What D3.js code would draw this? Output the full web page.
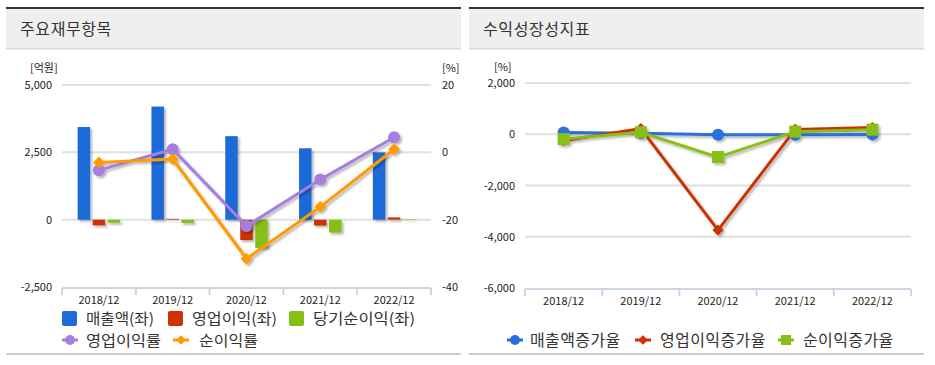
<!DOCTYPE html>
<html><head><meta charset="utf-8">
<script src="https://cdn.jsdelivr.net/npm/d3@7"></script>
<style>
html,body{margin:0;padding:0;background:#fff;}
svg{display:block;font-family:"Noto Sans CJK KR","Noto Sans",sans-serif;}
</style></head>
<body><svg id="c" width="935" height="365"></svg>
<script>
// ---------- data ----------
const categories = ["2018/12","2019/12","2020/12","2021/12","2022/12"];
// left chart (억원)
const sales = [3440, 4200, 3100, 2650, 2500];
const opIncome = [-210, 30, -760, -220, 85];
const netIncome = [-115, -120, -1050, -480, 20];
// left chart (%)
const opMargin = [-5.3, 0.9, -21.9, -8.1, 4.5];
const netMargin = [-3.0, -2.0, -31.6, -16.2, 0.9];
const leftTicks = [-2500, 0, 2500, 5000];
const rightTicks = [-40, -20, 0, 20];
// right chart (%)
const salesGrowth = [70, 40, -20, -15, -5];
const opGrowth = [-250, 220, -3740, 190, 260];
const netGrowth = [-190, 80, -890, 100, 180];
const growthTicks = [-6000, -4000, -2000, 0, 2000];

const leftTitle = "주요재무항목", rightTitle = "수익성장성지표";
const barNames = ["매출액(좌)", "영업이익(좌)", "당기순이익(좌)"];
const lineNames = ["영업이익률", "순이익률"];
const growthNames = ["매출액증가율", "영업이익증가율", "순이익증가율"];

// ---------- styles ----------
const C = {blue:"#1f6bd8", red:"#cc3300", green:"#88bf12", purple:"#a67edf", orange:"#ff9a00"};
const fmt = d3.formatLocale({decimal:".",thousands:",",grouping:[3],currency:["",""],minus:"-"}).format(",");
const svg = d3.select("#c");
const defs = svg.append("defs");
const f = defs.append("filter").attr("id","sh").attr("x","-20%").attr("y","-20%").attr("width","160%").attr("height","160%");
f.append("feDropShadow").attr("dx",2).attr("dy",2).attr("stdDeviation",1).attr("flood-color","#000").attr("flood-opacity",0.28);

function panel(x0, x1, title){
  svg.append("rect").attr("x",x0).attr("y",7).attr("width",x1-x0).attr("height",2).attr("fill","#333");
  svg.append("rect").attr("x",x0).attr("y",9).attr("width",x1-x0).attr("height",40).attr("fill","#efefef");
  svg.append("rect").attr("x",x0).attr("y",48).attr("width",x1-x0).attr("height",1.5).attr("fill","#d9d9d9");
  svg.append("rect").attr("x",x0).attr("y",353).attr("width",x1-x0).attr("height",2).attr("fill","#cccccc");
  svg.append("text").attr("x",x0+14).attr("y",35).attr("font-size",16).attr("letter-spacing",0.6).attr("fill","#333").text(title);
}
panel(6, 461, leftTitle);
panel(469, 924, rightTitle);

function grid(g, y, ticks, x0, x1){
  g.selectAll(null).data(ticks).join("line")
    .attr("x1",x0).attr("x2",x1).attr("y1",d=>y(d)).attr("y2",d=>y(d))
    .attr("stroke","#e0e0e0").attr("stroke-width",2);
}
function xAxis(g, x, y0){
  const r = x.range();
  g.append("line").attr("x1",r[0]).attr("x2",r[1]).attr("y1",y0).attr("y2",y0).attr("stroke","#ccd6e3").attr("stroke-width",2);
  const bounds = categories.map(c=>x(c)).concat([r[1]]);
  g.selectAll(null).data(bounds).join("line")
    .attr("x1",d=>d).attr("x2",d=>d).attr("y1",y0).attr("y2",y0+7).attr("stroke","#ccd6e3").attr("stroke-width",2);
  g.selectAll(null).data(categories).join("text")
    .attr("x",d=>x(d)+x.bandwidth()/2).attr("y",y0+16).attr("text-anchor","middle")
    .attr("font-size",11).attr("fill","#222").text(d=>d);
}
function diamond(s){ return d3.symbol(d3.symbolDiamond2 || d3.symbolDiamond, s)(); }

// ---------- left chart ----------
{
  const g = svg.append("g");
  const x = d3.scaleBand().domain(categories).range([62,431]);
  const y = d3.scaleLinear().domain([-2500,5000]).range([287,85]);
  const y2 = d3.scaleLinear().domain([-40,20]).range([287,85]);
  grid(g, y, leftTicks.filter(d=>d!==-2500), 62, 431);
  g.selectAll(null).data(leftTicks).join("text")
    .attr("x",52).attr("y",d=>y(d)+4).attr("text-anchor","end").attr("font-size",11).attr("fill","#222").text(d=>fmt(d));
  g.selectAll(null).data(rightTicks).join("text")
    .attr("x",442).attr("y",d=>y2(d)+4).attr("text-anchor","start").attr("font-size",11).attr("fill","#222").text(d=>d);
  g.append("text").attr("x",30).attr("y",72).attr("font-size",11).attr("fill","#222").text("[억원]");
  g.append("text").attr("x",442).attr("y",72).attr("font-size",11).attr("fill","#222").text("[%]");
  xAxis(g, x, 288);

  const series = [sales, opIncome, netIncome];
  const cols = [C.blue, C.red, C.green];
  const offs = [-15, 0, 15];
  const bw = 12.5;
  series.forEach((s,i)=>{
    g.append("g").attr("filter","url(#sh)").selectAll(null).data(s).join("rect")
      .attr("x",(d,j)=>x(categories[j])+x.bandwidth()/2+offs[i]-bw/2)
      .attr("width",bw)
      .attr("y",d=>Math.min(y(d),y(0)))
      .attr("height",d=>Math.abs(y(d)-y(0)))
      .attr("fill",cols[i]);
  });
  const cx = j=>x(categories[j])+x.bandwidth()/2;
  const line = d3.line().x((d,j)=>cx(j)).y(d=>y2(d));
  const lg = g.append("g").attr("filter","url(#sh)");
  lg.append("path").attr("d",line(opMargin)).attr("fill","none").attr("stroke",C.purple).attr("stroke-width",3);
  lg.selectAll(null).data(opMargin).join("circle").attr("cx",(d,j)=>cx(j)).attr("cy",d=>y2(d)).attr("r",6).attr("fill",C.purple);
  lg.append("path").attr("d",line(netMargin)).attr("fill","none").attr("stroke",C.orange).attr("stroke-width",3);
  lg.selectAll(null).data(netMargin).join("path").attr("d",diamond(90))
    .attr("transform",(d,j)=>`translate(${cx(j)},${y2(d)})`).attr("fill",C.orange);

  // legend
  const L = svg.append("g");
  const row1 = [[62,86,68],[168,192,85],[289,313,102]];
  barNames.forEach((n,i)=>{
    L.append("rect").attr("x",row1[i][0]).attr("y",311).attr("width",15).attr("height",15).attr("rx",2).attr("fill",cols[i]);
    L.append("text").attr("x",row1[i][1]).attr("y",323.5).attr("font-size",15)
      .attr("textLength",row1[i][2]).attr("lengthAdjust","spacingAndGlyphs").attr("fill","#333").text(n);
  });
  const row2 = [[62,86,C.purple,"c",75],[173,199,C.orange,"d",59]];
  lineNames.forEach((n,i)=>{
    const [mx,tx,col,t,w] = row2[i];
    L.append("line").attr("x1",mx).attr("x2",mx+16).attr("y1",340).attr("y2",340).attr("stroke",col).attr("stroke-width",3);
    if(t==="c") L.append("circle").attr("cx",mx+8).attr("cy",340).attr("r",5).attr("fill",col);
    else L.append("path").attr("d",diamond(60)).attr("transform",`translate(${mx+8},340)`).attr("fill",col);
    L.append("text").attr("x",tx).attr("y",346).attr("font-size",15)
      .attr("textLength",w).attr("lengthAdjust","spacingAndGlyphs").attr("fill","#333").text(n);
  });
}

// ---------- right chart ----------
{
  const g = svg.append("g");
  const x = d3.scaleBand().domain(categories).range([525,911]);
  const y = d3.scaleLinear().domain([-6000,2000]).range([288,83]);
  grid(g, y, growthTicks.filter(d=>d!==-6000), 525, 911);
  g.selectAll(null).data(growthTicks).join("text")
    .attr("x",515).attr("y",d=>y(d)+4).attr("text-anchor","end").attr("font-size",11).attr("fill","#222").text(d=>fmt(d));
  g.append("text").attr("x",494).attr("y",71).attr("font-size",11).attr("fill","#222").text("[%]");
  xAxis(g, x, 289);
  const cx = j=>x(categories[j])+x.bandwidth()/2;
  const line = d3.line().x((d,j)=>cx(j)).y(d=>y(d));
  const lg = g.append("g").attr("filter","url(#sh)");
  const S = [[salesGrowth,"#2a6fdc","c"],[opGrowth,C.red,"d"],[netGrowth,C.green,"s"]];
  S.forEach(([s,col,t])=>{
    lg.append("path").attr("d",line(s)).attr("fill","none").attr("stroke",col).attr("stroke-width",3);
    if(t==="c") lg.selectAll(null).data(s).join("circle").attr("cx",(d,j)=>cx(j)).attr("cy",d=>y(d)).attr("r",6).attr("fill",col);
    else if(t==="d") lg.selectAll(null).data(s).join("path").attr("d",diamond(80)).attr("transform",(d,j)=>`translate(${cx(j)},${y(d)})`).attr("fill",col);
    else lg.selectAll(null).data(s).join("rect").attr("x",(d,j)=>cx(j)-6).attr("y",d=>y(d)-6).attr("width",12).attr("height",12).attr("fill",col);
  });
  const L = svg.append("g");
  const pos = [[507,530],[635,660],[778,803]];
  growthNames.forEach((n,i)=>{
    const [mx,tx] = pos[i]; const [,col,t] = S[i];
    L.append("line").attr("x1",mx).attr("x2",mx+16).attr("y1",340).attr("y2",340).attr("stroke",col).attr("stroke-width",3);
    if(t==="c") L.append("circle").attr("cx",mx+8).attr("cy",340).attr("r",5).attr("fill",col);
    else if(t==="d") L.append("path").attr("d",diamond(60)).attr("transform",`translate(${mx+8},340)`).attr("fill",col);
    else L.append("rect").attr("x",mx+3).attr("y",335).attr("width",10).attr("height",10).attr("fill",col);
    L.append("text").attr("x",tx).attr("y",346).attr("font-size",16).attr("letter-spacing",0.4).attr("fill","#333").text(n);
  });
}
</script></body></html>
